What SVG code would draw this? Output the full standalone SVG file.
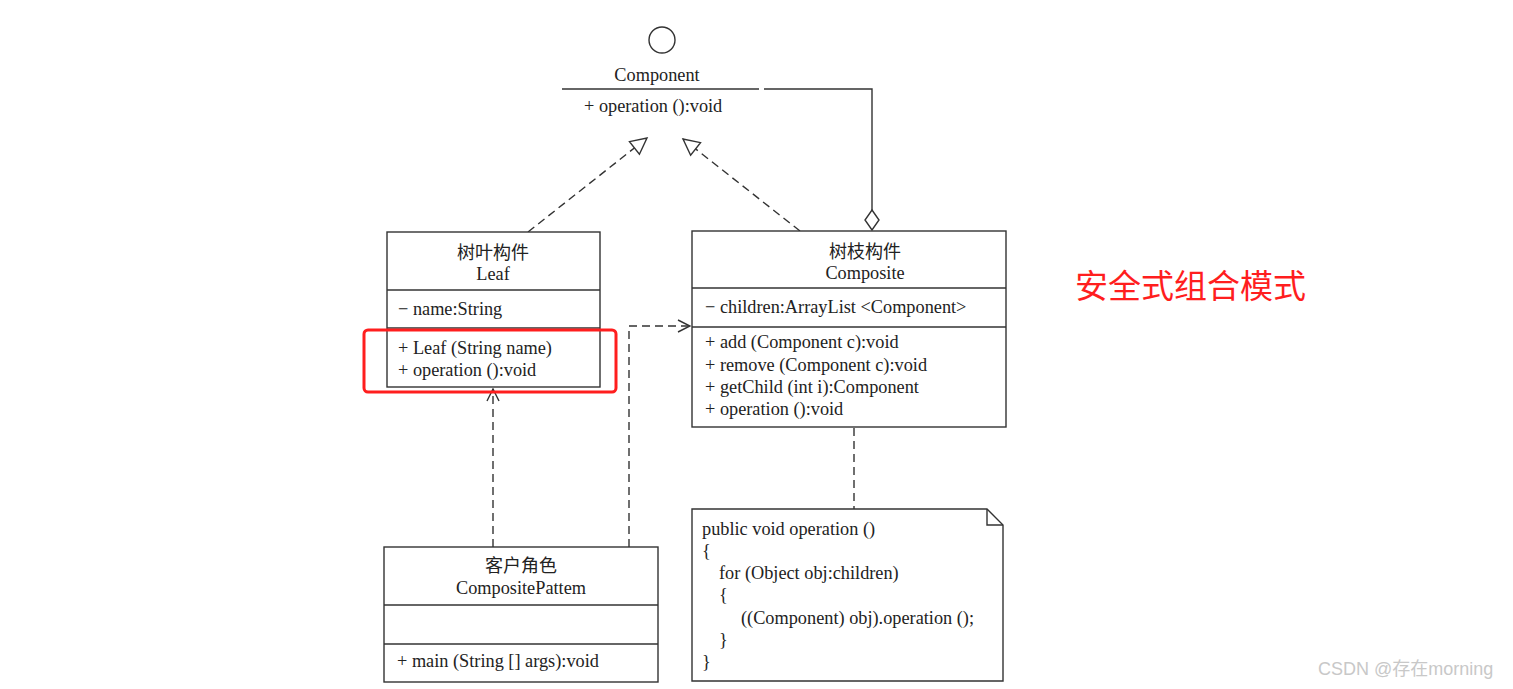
<svg xmlns="http://www.w3.org/2000/svg" width="1513" height="689" viewBox="0 0 1513 689">
  <style>
    .box { fill: #fff; stroke: #333; stroke-width: 1.4; }
    .div { stroke: #333; stroke-width: 1.4; fill: none; }
    .t { font-family: "Liberation Serif", "Noto Sans CJK SC", serif; font-size: 18.3px; fill: #222; }
    .cn { font-family: "Noto Sans CJK SC", serif; font-size: 18px; fill: #222; }
    .c { text-anchor: middle; }
    .dash { stroke: #333; stroke-width: 1.4; fill: none; stroke-dasharray: 8 5; }
    .solid { stroke: #333; stroke-width: 1.4; fill: none; }
  </style>
  <defs>
    <marker id="hollowTri" viewBox="0 0 20 20" refX="18" refY="10" markerWidth="20" markerHeight="20" markerUnits="userSpaceOnUse" orient="auto">
      <path d="M2,2 L18,10 L2,18 Z" fill="#fff" stroke="#333" stroke-width="1.4"/>
    </marker>
    <marker id="openArrow" viewBox="0 0 14 14" refX="13" refY="7" markerWidth="14" markerHeight="14" markerUnits="userSpaceOnUse" orient="auto">
      <path d="M1,1 L13,7 L1,13" fill="none" stroke="#333" stroke-width="1.4"/>
    </marker>
  </defs>
  <rect width="1513" height="689" fill="#fff"/>

  <!-- connectors -->
  <g id="connectors">
    <!-- realization: Leaf -> Component -->
    <line class="dash" x1="528" y1="232" x2="647" y2="138" marker-end="url(#hollowTri)"/>
    <!-- realization: Composite -> Component -->
    <line class="dash" x1="800" y1="231" x2="683" y2="139" marker-end="url(#hollowTri)"/>
    <!-- aggregation: Composite holds Components -->
    <polyline class="solid" points="764,89 872,89 872,210"/>
    <path d="M872,210 L879,220 L872,230 L865,220 Z" fill="#fff" stroke="#333" stroke-width="1.4"/>
    <!-- dependency: client -> Leaf -->
    <line class="dash" x1="493" y1="547" x2="493" y2="389" marker-end="url(#openArrow)"/>
    <!-- dependency: client -> Composite -->
    <polyline class="dash" points="629,547 629,326 690,326" marker-end="url(#openArrow)"/>
    <!-- note anchor -->
    <line class="dash" x1="854" y1="428" x2="854" y2="509"/>
  </g>

  <!-- interface Component -->
  <g id="component">
    <circle cx="662" cy="40" r="13" fill="#fff" stroke="#333" stroke-width="1.4"/>
    <text class="t c" x="657" y="81">Component</text>
    <line class="div" x1="562" y1="89" x2="759" y2="89"/>
    <text class="t" x="584" y="112">+ operation ():void</text>
  </g>

  <!-- Leaf -->
  <g id="leaf">
    <rect class="box" x="387" y="232" width="213" height="155"/>
    <line class="div" x1="387" y1="290" x2="600" y2="290"/>
    <line class="div" x1="387" y1="328" x2="600" y2="328"/>
    <text class="cn c" x="493" y="259">树叶构件</text>
    <text class="t c" x="493" y="280">Leaf</text>
    <text class="t" x="398" y="315">− name:String</text>
    <text class="t" x="398" y="354">+ Leaf (String name)</text>
    <text class="t" x="398" y="376">+ operation ():void</text>
  </g>

  <!-- highlight around Leaf methods -->
  <g id="highlight">
    <rect x="364" y="330" width="252" height="62" rx="4" fill="none" stroke="#ff1e1e" stroke-width="3"/>
  </g>

  <!-- Composite -->
  <g id="composite">
    <rect class="box" x="692" y="231" width="314" height="196"/>
    <line class="div" x1="692" y1="288" x2="1006" y2="288"/>
    <line class="div" x1="692" y1="327" x2="1006" y2="327"/>
    <text class="cn c" x="865" y="258">树枝构件</text>
    <text class="t c" x="865" y="279">Composite</text>
    <text class="t" x="705" y="313">− children:ArrayList &lt;Component&gt;</text>
    <text class="t" x="705" y="348">+ add (Component c):void</text>
    <text class="t" x="705" y="371">+ remove (Component c):void</text>
    <text class="t" x="705" y="393">+ getChild (int i):Component</text>
    <text class="t" x="705" y="415">+ operation ():void</text>
  </g>

  <!-- client -->
  <g id="client">
    <rect class="box" x="384" y="547" width="274" height="135"/>
    <line class="div" x1="384" y1="605" x2="658" y2="605"/>
    <line class="div" x1="384" y1="644" x2="658" y2="644"/>
    <text class="cn c" x="521" y="572">客户角色</text>
    <text class="t c" x="521" y="594">CompositePattem</text>
    <text class="t" x="397" y="667">+ main (String [] args):void</text>
  </g>

  <!-- note -->
  <g id="note">
    <path class="box" d="M692,509 L987,509 L1003,525 L1003,681 L692,681 Z"/>
    <path class="div" d="M987,509 L987,525 L1003,525"/>
    <text class="t" x="702" y="535">public void operation ()</text>
    <text class="t" x="702" y="557">{</text>
    <text class="t" x="719" y="579">for (Object obj:children)</text>
    <text class="t" x="719" y="601">{</text>
    <text class="t" x="741" y="624">((Component) obj).operation ();</text>
    <text class="t" x="719" y="646">}</text>
    <text class="t" x="702" y="668">}</text>
  </g>

  <!-- title -->
  <g id="title">
    <text x="1075" y="298" font-family="'Noto Sans CJK SC', sans-serif" font-size="33" fill="#ff1e1e">安全式组合模式</text>
  </g>

  <text x="1318" y="675" font-family="'Liberation Sans', 'Noto Sans CJK SC', sans-serif" font-size="18" fill="#c8c8c8">CSDN @存在morning</text>
</svg>
